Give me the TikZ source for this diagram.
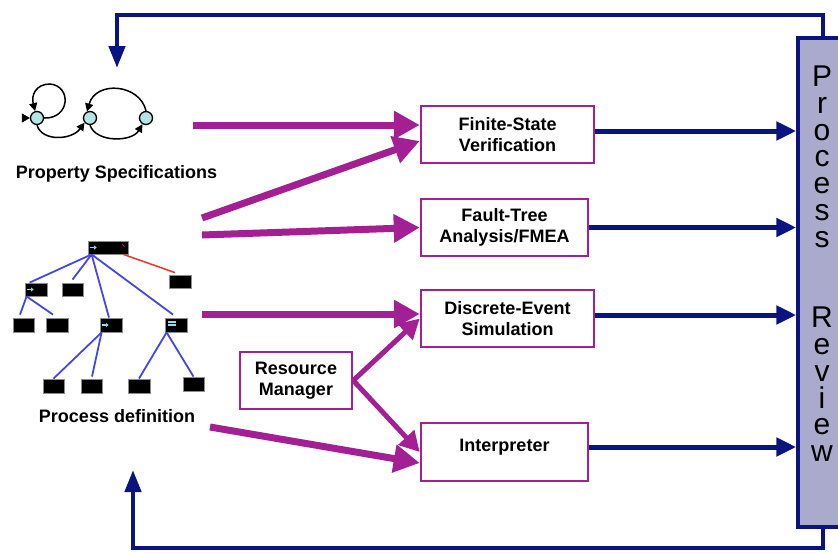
\documentclass[tikz,border=0pt]{standalone}
\usepackage{fontspec}
\setmainfont{Liberation Sans}
\usetikzlibrary{arrows.meta}
\definecolor{mag}{RGB}{163,32,148}
\definecolor{navy}{RGB}{10,20,128}
\definecolor{lav}{RGB}{170,170,204}
\definecolor{stc}{RGB}{180,228,228}
\definecolor{treeblue}{RGB}{70,70,230}
\definecolor{treered}{RGB}{240,50,30}
\definecolor{iconcyan}{RGB}{150,220,235}
\begin{document}
\begin{tikzpicture}[x=1pt,y=-1pt,
  box/.style={draw=mag, line width=2.5pt, fill=white, inner sep=0pt,
    font=\fontsize{18}{21}\selectfont\bfseries, align=center},
  lbl/.style={inner sep=0pt, font=\fontsize{18}{21}\selectfont\bfseries},
  magarrow/.style={draw=mag, line width=7pt, -{Triangle[length=26pt,width=27pt]}},
  magthin/.style={draw=mag, line width=5pt, -{Triangle[length=20pt,width=21pt]}},
  bluearrow/.style={draw=navy, line width=5pt, -{Triangle[length=20pt,width=18pt]}},
  loopline/.style={draw=navy, line width=4.5pt, -{Triangle[length=22pt,width=16pt]}},
  tb/.style={fill=black, draw=black!45, line width=0.8pt, inner sep=0pt,
    minimum width=21pt, minimum height=13pt},
  tline/.style={draw=treeblue, line width=1.8pt},
  state/.style={circle, draw=black, line width=1.3pt, fill=stc, minimum size=13pt, inner sep=0pt},
  sedge/.style={draw=black, line width=1.5pt, -{Triangle[length=8pt,width=8pt]}},
]
\useasboundingbox (0,0) rectangle (838,554);

% ---- Process Review bar ----
\node[draw=navy, line width=3.5pt, fill=lav, minimum width=50pt, minimum height=489pt,
      inner sep=0pt] (bar) at (823,282.5) {};
\node[inner sep=0pt, align=center, font=\fontsize{30}{26.8}\selectfont] (bartext) at (822,263.8)
  {P\\r\\o\\c\\e\\s\\s\\[53.6pt]R\\e\\v\\i\\e\\w};

% ---- boxes ----
\node[box, minimum width=173pt, minimum height=57pt] (fsv) at (507.5,134.5) {Finite-State\\Verification};
\node[box, minimum width=167pt, minimum height=57pt] (fta) at (504.5,227.5) {Fault-Tree\\Analysis/FMEA};
\node[box, minimum width=173pt, minimum height=57pt] (des) at (507.5,318.5) {Discrete-Event\\Simulation};
\node[box, minimum width=112pt, minimum height=57pt] (rm) at (296,380.5) {Resource\\Manager};
\node[box, minimum width=167pt, minimum height=58pt, text height=13pt, text depth=15pt] (interp) at (504.5,452) {Interpreter};

% ---- blue arrows to review ----
\draw[bluearrow] ([yshift=3.5pt]fsv.east) coordinate (b1) -- (b1 -| bar.west);
\draw[bluearrow] (fta.east) coordinate (b2) -- (b2 -| bar.west);
\draw[bluearrow] ([yshift=3.5pt]des.east) coordinate (b3) -- (b3 -| bar.west);
\draw[bluearrow] ([yshift=5pt]interp.east) coordinate (b4) -- (b4 -| bar.west);

% ---- feedback loops ----
\coordinate (topcorner) at (117,15);
\coordinate (topin) at (117,68);
\draw[loopline] (bar.north) |- (topcorner) -- (topin);
\coordinate (botcorner) at (133,548);
\coordinate (botin) at (133,470);
\draw[loopline] (bar.south) |- (botcorner) -- (botin);

% ---- labels ----
\node[lbl] (pslabel) at (116.5,174) {Property Specifications};
\node[lbl] (pdlabel) at (117,416.5) {Process definition};

% ---- state machine ----
\node[state] (s1) at (37,118) {};
\node[state] (s2) at (90,118) {};
\node[state] (s3) at (146,118) {};
\coordinate (init) at (22,118);
\draw[draw=black, line width=0.5pt, -{Triangle[length=8pt,width=9pt]}] (init) -- (s1.west);
\draw[sedge] (s1.east) .. controls (70,119) and (72,86) .. (50,84)
   .. controls (36,84) and (31,95) .. (s1.105);
\draw[sedge] (s1.south) .. controls (42,142) and (72,140) .. (s2.220);
\draw[sedge] (s2.south) .. controls (96,143) and (132,142) .. (s3.240);
\draw[sedge] (s3.north) .. controls (140,84) and (96,80) .. (s2.115);

% ---- process tree ----
\node[tb, minimum width=40pt] (root) at (108,247.5) {};
\node[tb, minimum width=22pt] (na) at (36,289.5) {};
\node[tb] (nb) at (72.5,289.5) {};
\node[tb, minimum width=22pt] (nr) at (180,281.5) {};
\node[tb, minimum height=14pt] (a1) at (23.5,325) {};
\node[tb, minimum width=22pt, minimum height=14pt] (a2) at (57,325) {};
\node[tb, minimum width=22pt, minimum height=14pt] (nc) at (111,325) {};
\node[tb, minimum width=22pt, minimum height=14pt] (nd) at (176,325) {};
\node[tb, minimum height=14pt] (c1) at (53.5,386) {};
\node[tb, minimum height=14pt] (c2) at (92,386) {};
\node[tb, minimum width=22pt, minimum height=14pt] (d1) at (139,386) {};
\node[tb, minimum height=14pt] (d2) at (193.5,384) {};

\coordinate (rp) at ([xshift=4pt]root.south west);
\draw[tline] (rp) -- ([xshift=5pt]na.north west);
\draw[tline] (rp) -- ([yshift=3pt]nb.north);
\draw[tline] (rp) -- ([xshift=-2pt]nc.north);
\draw[tline] (rp) -- ([xshift=-3pt,yshift=3pt]nd.north);
\draw[draw=treered, line width=1.5pt] ([xshift=-5pt]root.south east) -- ([xshift=-5pt,yshift=2pt]nr.north);
\coordinate (ap) at ([xshift=2pt]na.south west);
\draw[tline] (ap) -- ([xshift=-3.5pt,yshift=3pt]a1.north);
\draw[tline] (ap) -- ([xshift=-4pt,yshift=3pt]a2.north);
\coordinate (cp) at ([xshift=2pt]nc.south west);
\draw[tline] (cp) -- (c1.north);
\draw[tline] (cp) -- ([yshift=2pt]c2.north);
\coordinate (dp) at ([xshift=2pt]nd.south west);
\draw[tline] (dp) -- (d1.north);
\draw[tline] (dp) -- (d2.north);

% icons in tree boxes
\draw[iconcyan, line width=1.4pt, -{Triangle[length=2.5pt,width=4pt]}] ([xshift=2pt]root.west) -- ++(7,0);
\draw[iconcyan, line width=1.4pt, -{Triangle[length=2.5pt,width=4pt]}] ([xshift=2pt]na.west) -- ++(7,0);
\draw[iconcyan, line width=1.4pt, -{Triangle[length=2.5pt,width=4pt]}] ([xshift=2pt]nc.west) -- ++(7,0);
\fill[iconcyan] ([xshift=3pt,yshift=2.5pt]nd.west) rectangle ++(8,-1.5);
\fill[iconcyan] ([xshift=3pt,yshift=-0.5pt]nd.west) rectangle ++(8,-1.5);
\draw[treered, line width=0.8pt] ([xshift=-6pt,yshift=3pt]root.east) -- ++(2,2);

% ---- magenta arrows ----
\coordinate (ps1) at (193,125);
\draw[magarrow] (ps1) -- (ps1 -| fsv.west);
\coordinate (pd1) at (202,218);
\draw[magarrow] (pd1) -- ([yshift=-6.5pt]fsv.west);
\coordinate (pd2) at (202,235);
\draw[magarrow] (pd2) -- (fta.west);
\coordinate (pd3) at (202,314);
\draw[magarrow] (pd3) -- (pd3 -| des.west);
\coordinate (pd4) at (210,427);
\draw[magarrow] (pd4) -- ([yshift=-11pt]interp.west);
\draw[magthin] (rm.east) -- (des.west);
\draw[magthin] (rm.east) -- (interp.west);
\end{tikzpicture}
\end{document}
